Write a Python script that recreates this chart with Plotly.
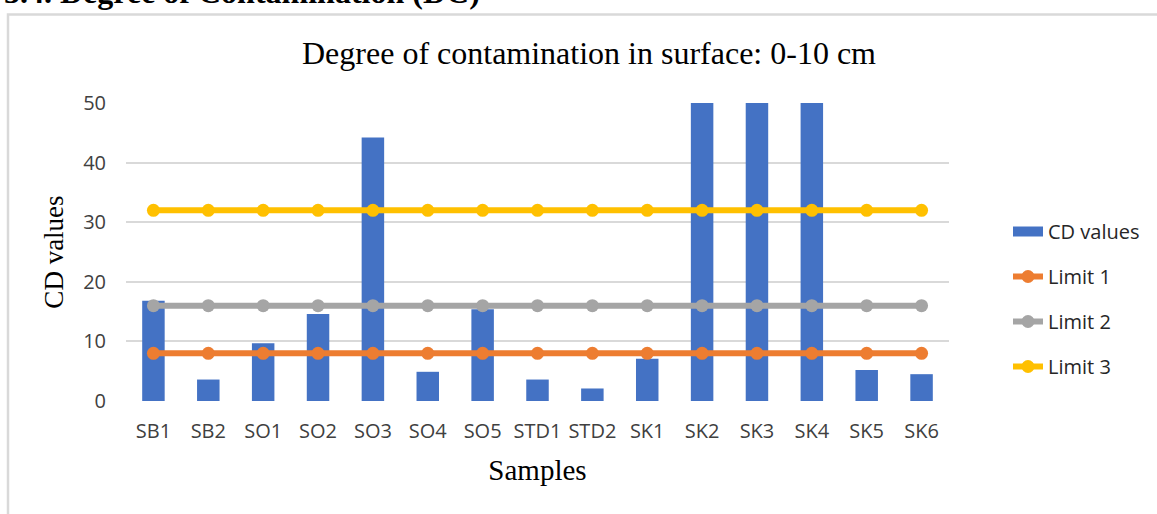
import plotly.graph_objects as go

# ---- data ----
samples = ["SB1", "SB2", "SO1", "SO2", "SO3", "SO4", "SO5", "STD1", "STD2",
           "SK1", "SK2", "SK3", "SK4", "SK5", "SK6"]
cd_values = [16.8, 3.6, 9.7, 14.6, 44.2, 4.9, 15.4, 3.6, 2.1,
             7.1, 62.0, 58.0, 56.0, 5.2, 4.5]   # SK2-SK4 exceed the axis maximum (clipped)
limit1 = [8] * len(samples)
limit2 = [16] * len(samples)
limit3 = [32] * len(samples)
y_ticks = [0, 10, 20, 30, 40, 50]

BLUE = "#4472C4"
ORANGE = "#ED7D31"
GRAY = "#A5A5A5"
YELLOW = "#FFC000"
TICKFONT = dict(family="Open Sans, DejaVu Sans, sans-serif", size=20, color="#404040")
SERIF = "Liberation Serif, Times New Roman, serif"

fig = go.Figure()
fig.add_trace(go.Bar(x=samples, y=cd_values, name="CD values", marker=dict(color=BLUE, line=dict(width=0)),
                     showlegend=False))
# legend key for bars (wide rectangle like Excel)
fig.add_trace(go.Scatter(x=[samples[0]], y=[None], mode="lines", name="CD values",
                         line=dict(color=BLUE, width=10), legendgroup="a", hoverinfo="skip"))
for name, vals, col, grp in [("Limit 1", limit1, ORANGE, "b"),
                             ("Limit 2", limit2, GRAY, "c"),
                             ("Limit 3", limit3, YELLOW, "d")]:
    fig.add_trace(go.Scatter(x=samples, y=vals, name=name, mode="lines+markers",
                             line=dict(color=col, width=6),
                             marker=dict(color=col, size=13, symbol="circle"),
                             legendgroup=grp))

W, H = 1157, 514
L, R, T, B = 126, 949, 103, 401
pw, ph = R - L, B - T

def px(x):
    return (x - L) / pw

def py(y):
    return (B - y) / ph

fig.update_layout(
    width=W, height=H,
    margin=dict(l=L, r=W - R, t=T, b=H - B, pad=0, autoexpand=False),
    paper_bgcolor="white", plot_bgcolor="white",
    bargap=0.59,
    title=dict(text="Degree of contamination in surface: 0-10 cm",
               font=dict(family=SERIF, size=32, color="#000000"),
               x=589 / W, xanchor="center", xref="container",
               y=1 - 64 / H, yanchor="bottom", yref="container"),
    xaxis=dict(type="category", categoryorder="array", categoryarray=samples,
               range=[-0.5, len(samples) - 0.5],
               showgrid=False, showline=False, zeroline=False, ticks="", automargin=False,
               tickfont=TICKFONT, ticklabelstandoff=16,
               title=dict(text="Samples", font=dict(family=SERIF, size=29, color="#000000"), standoff=16)),
    yaxis=dict(range=[0, 50], tickvals=y_ticks, showgrid=True, gridcolor="#D9D9D9", gridwidth=1.5,
               zeroline=False, showline=False, ticks="", tickfont=TICKFONT, ticklabelstandoff=19,
               automargin=False,
               title=dict(text="CD values", font=dict(family=SERIF, size=27, color="#000000"), standoff=11)),
    legend=dict(x=px(1008), xanchor="left", y=py(299), yanchor="middle",
                font=dict(family="Open Sans, DejaVu Sans, sans-serif", size=20, color="#262626"),
                tracegroupgap=16, bgcolor="rgba(0,0,0,0)", traceorder="grouped"),
    shapes=[dict(type="rect", xref="paper", yref="paper",
                 x0=px(8), x1=px(1170), y0=py(530), y1=py(14.5),
                 line=dict(color="#D9D9D9", width=2.5), fillcolor="rgba(0,0,0,0)", layer="below")],
    annotations=[dict(text="<b>3.4. Degree of Contamination (DC)</b>", xref="paper", yref="paper",
                      x=px(2), xanchor="left", y=py(12), yanchor="bottom", showarrow=False,
                      font=dict(family=SERIF, size=32, color="#000000"))],
)

fig.write_html("out.html", config={"displayModeBar": False},
               post_script="document.body.style.margin='0px';")
